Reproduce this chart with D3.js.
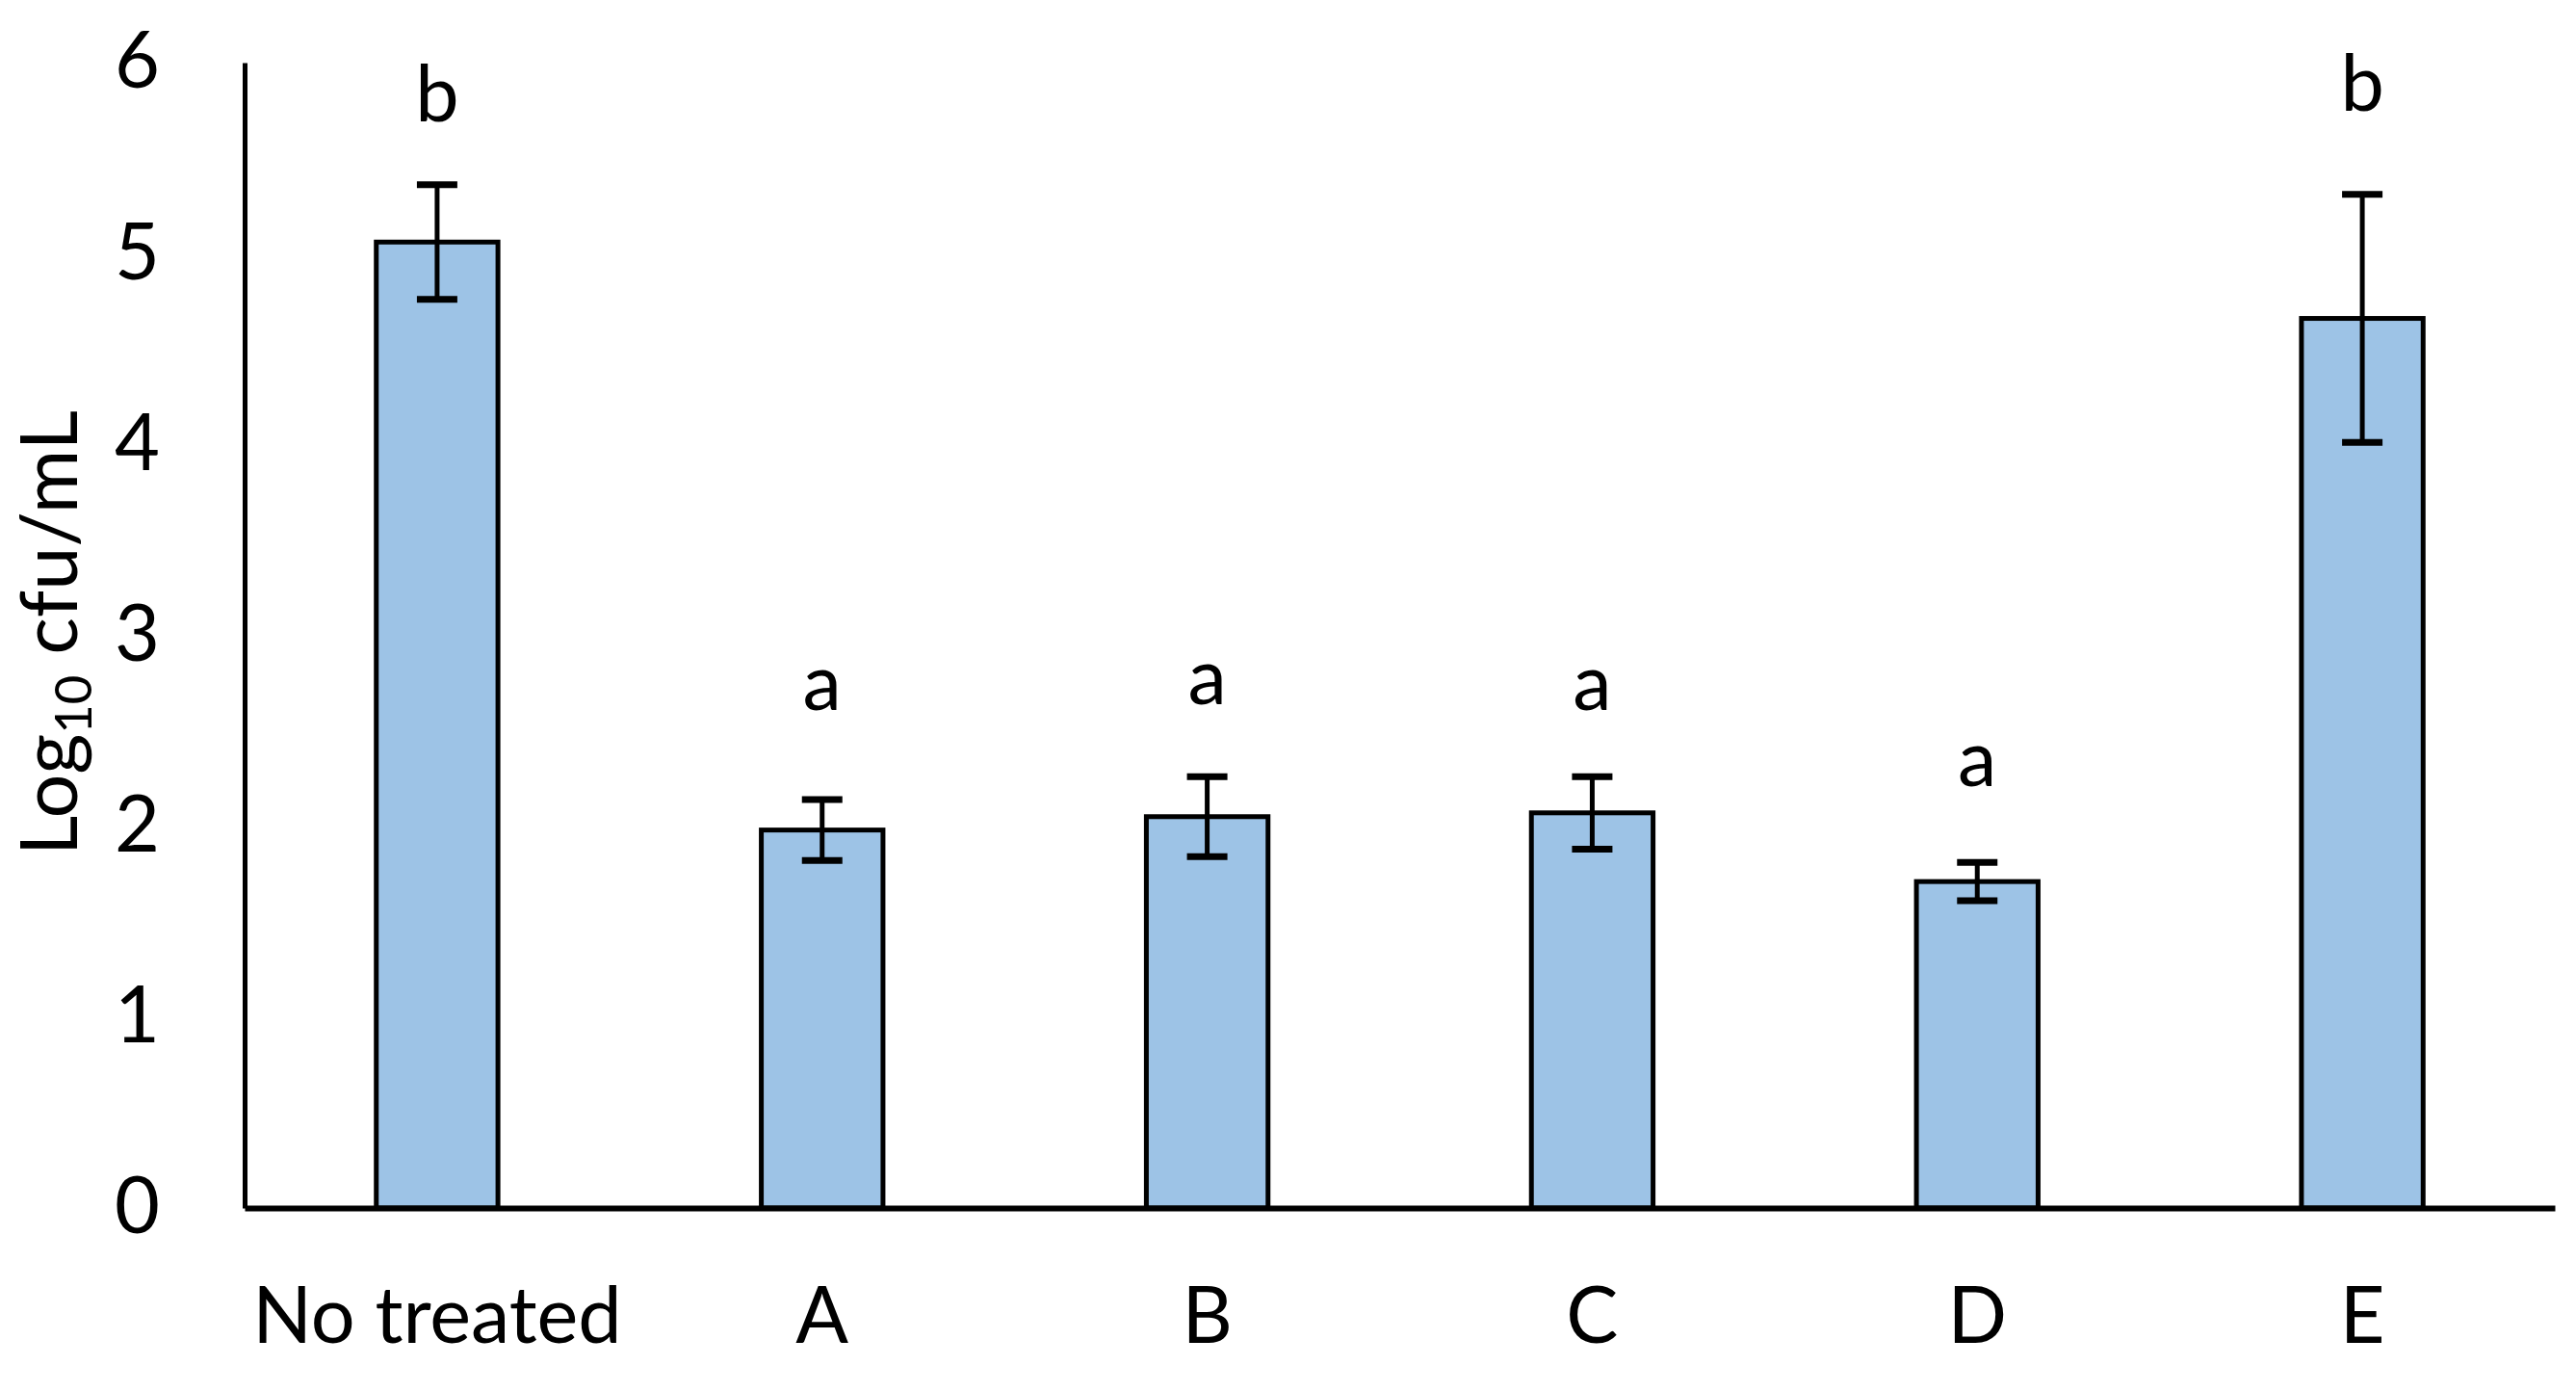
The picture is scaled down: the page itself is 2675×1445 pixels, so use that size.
<!DOCTYPE html>
<html><head><meta charset="utf-8">
<script src="https://cdn.jsdelivr.net/npm/d3@7"></script>
<style>html,body{margin:0;padding:0;background:#fff;}</style>
</head><body>
<script>
const categories = ["No treated", "A", "B", "C", "D", "E"];
const means = [5.06, 1.98, 2.05, 2.07, 1.71, 4.66];
const errors = [0.30, 0.16, 0.21, 0.19, 0.10, 0.65];
const letters = ["b", "a", "a", "a", "a", "b"];
const letterLevels = [5.69, 2.61, 2.64, 2.61, 2.21, 5.75];
const yTicks = [0, 1, 2, 3, 4, 5, 6];

const W = 2675, H = 1445;
const FONT = "Lato, 'Open Sans', sans-serif";
const FS = 81;

const svg = d3.select("body").append("svg").attr("width", W).attr("height", H)
  .style("font-family", FONT);

const x = d3.scaleBand().domain(categories).range([254, 2653]).padding(0);
const y = d3.scaleLinear().domain([0, 6]).range([1254, 65]);
const barW = x.bandwidth() * 0.316;

// bars
svg.append("g").selectAll("rect").data(categories).join("rect")
  .attr("x", (d) => x(d) + x.bandwidth() / 2 - barW / 2)
  .attr("y", (d, i) => y(means[i]))
  .attr("width", barW)
  .attr("height", (d, i) => y(0) - y(means[i]))
  .attr("fill", "#9dc3e6")
  .attr("stroke", "#000").attr("stroke-width", 5);

// error bars
const eg = svg.append("g").attr("stroke", "#000").attr("stroke-width", 5);
categories.forEach((c, i) => {
  const cx = x(c) + x.bandwidth() / 2;
  const top = y(means[i] + errors[i]), bot = y(means[i] - errors[i]);
  eg.append("line").attr("x1", cx).attr("x2", cx).attr("y1", top).attr("y2", bot);
  eg.append("line").attr("x1", cx - 21).attr("x2", cx + 21).attr("y1", top).attr("y2", top).attr("stroke-width", 7);
  eg.append("line").attr("x1", cx - 21).attr("x2", cx + 21).attr("y1", bot).attr("y2", bot).attr("stroke-width", 7);
});

// significance letters
svg.append("g").selectAll("text").data(categories).join("text")
  .attr("x", (d) => x(d) + x.bandwidth() / 2)
  .attr("y", (d, i) => y(letterLevels[i]))
  .attr("text-anchor", "middle")
  .attr("font-size", FS)
  .text((d, i) => letters[i]);

// y axis
const yAxis = d3.axisLeft(y).tickValues(yTicks).tickSize(0).tickPadding(88).tickFormat(d3.format("d"));
const gy = svg.append("g").attr("transform", "translate(254,0)").call(yAxis);
gy.select(".domain").attr("stroke", "#000").attr("stroke-width", 5);
gy.selectAll("text").attr("font-size", FS).attr("font-family", FONT).attr("fill", "#000");

// x axis
const xAxis = d3.axisBottom(x).tickSize(0).tickPadding(82);
const gx = svg.append("g").attr("transform", "translate(0,1254)").call(xAxis);
gx.select(".domain").attr("stroke", "#000").attr("stroke-width", 6);
gx.selectAll("text").attr("font-size", FS).attr("font-family", FONT).attr("fill", "#000");

// y title
const yt = svg.append("text")
  .attr("transform", "translate(80,657) rotate(-90)")
  .attr("text-anchor", "middle")
  .attr("font-size", FS);
yt.append("tspan").text("Log");
yt.append("tspan").attr("font-size", FS * 0.65).attr("dy", 15).text("10");
yt.append("tspan").attr("dy", -15).text(" cfu/mL");
</script>
</body></html>
